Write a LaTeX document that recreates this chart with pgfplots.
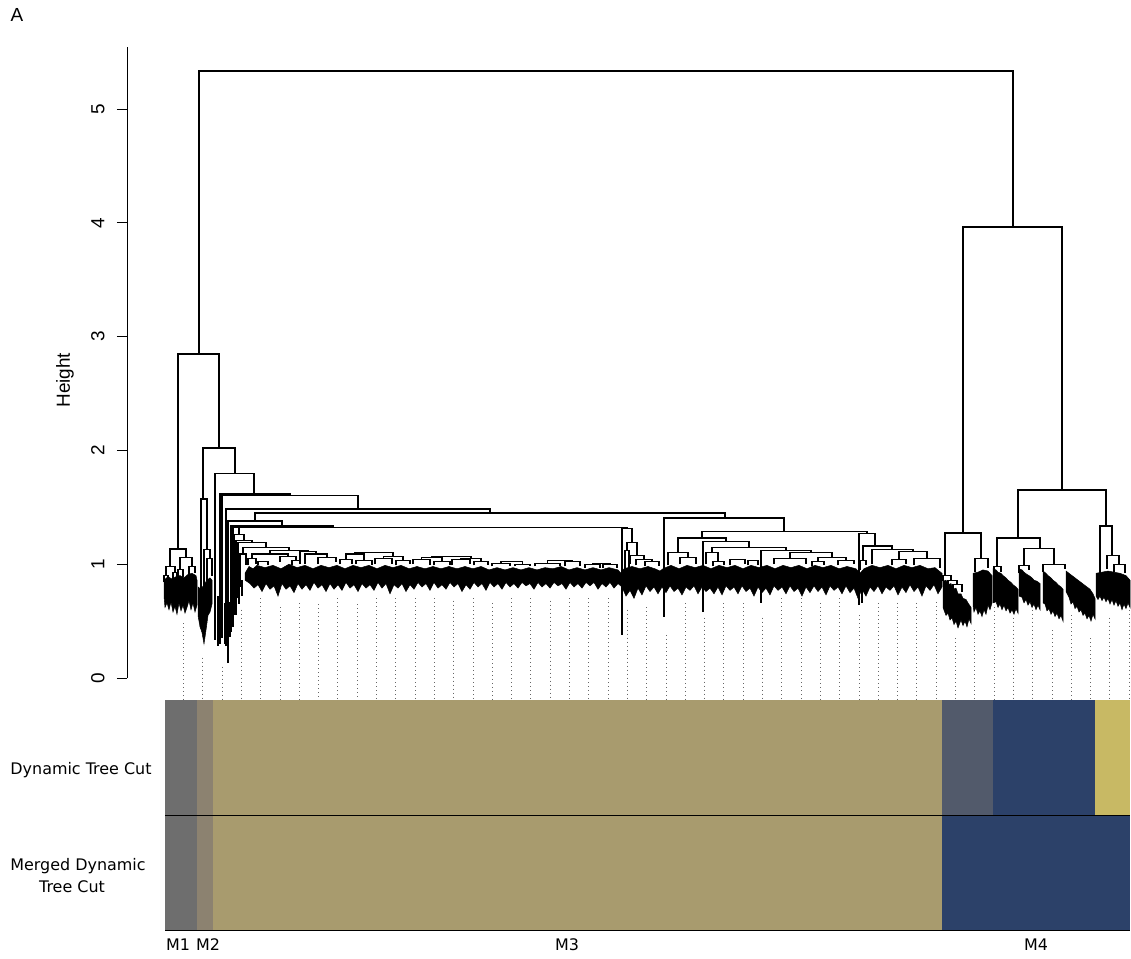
\documentclass[border=0pt]{standalone}
\usepackage{pgfplots}
\pgfplotsset{compat=1.18}
\usepackage{fontspec}
\setmainfont{Liberation Sans}
\newfontfamily\djv{DejaVu Sans}
\definecolor{cMone}{HTML}{6E6E6E}
\definecolor{cMtwo}{HTML}{8C8270}
\definecolor{cMthree}{HTML}{A89B6E}
\definecolor{cSlate}{HTML}{525A6B}
\definecolor{cNavy}{HTML}{2C4169}
\definecolor{cYel}{HTML}{C8B964}
\begin{document}
\begin{tikzpicture}
\path[use as bounding box] (0,0) rectangle (1131bp,-959bp);
\begin{axis}[
  at={(127bp,-678bp)}, anchor=south west,
  scale only axis, width=1004bp, height=631bp,
  xmin=127, xmax=1131, ymin=0, ymax=5.545,
  axis x line=none, axis y line=left,
  axis line style={-, line width=0.9bp, black},
  ytick={0,1,2,3,4,5},
  tick align=outside, major tick length=10bp,
  tick style={black, line width=0.9bp},
  yticklabel style={rotate=90, anchor=south, font=\fontsize{19}{19}\selectfont},
  yticklabel shift=9bp,
  /pgf/number format/assume math mode=true,
  ylabel={Height},
  ylabel style={at={(axis description cs:-0.0618,0.472)}, anchor=center, font=\fontsize{19}{19}\selectfont},
  clip=false, unbounded coords=jump,
]
% dotted guide lines
\addplot[gray!80!black, line width=0.9bp, dash pattern=on 1bp off 3bp] coordinates {
(183.5,0.48)(183.5,-0.193)(0,nan)
(202.8,0.18)(202.8,-0.193)(0,nan)
(222.1,0.10)(222.1,-0.193)(0,nan)
(241.4,0.60)(241.4,-0.193)(0,nan)
(260.7,0.70)(260.7,-0.193)(0,nan)
(280.0,0.62)(280.0,-0.193)(0,nan)
(299.3,0.66)(299.3,-0.193)(0,nan)
(318.6,0.65)(318.6,-0.193)(0,nan)
(337.9,0.70)(337.9,-0.193)(0,nan)
(357.2,0.65)(357.2,-0.193)(0,nan)
(376.5,0.70)(376.5,-0.193)(0,nan)
(395.8,0.70)(395.8,-0.193)(0,nan)
(415.1,0.70)(415.1,-0.193)(0,nan)
(434.4,0.70)(434.4,-0.193)(0,nan)
(453.7,0.68)(453.7,-0.193)(0,nan)
(473.0,0.70)(473.0,-0.193)(0,nan)
(492.3,0.66)(492.3,-0.193)(0,nan)
(511.6,0.70)(511.6,-0.193)(0,nan)
(530.9,0.70)(530.9,-0.193)(0,nan)
(550.2,0.68)(550.2,-0.193)(0,nan)
(569.5,0.70)(569.5,-0.193)(0,nan)
(588.8,0.70)(588.8,-0.193)(0,nan)
(608.1,0.70)(608.1,-0.193)(0,nan)
(627.4,0.60)(627.4,-0.193)(0,nan)
(646.7,0.62)(646.7,-0.193)(0,nan)
(666.0,0.38)(666.0,-0.193)(0,nan)
(685.3,0.66)(685.3,-0.193)(0,nan)
(704.6,0.53)(704.6,-0.193)(0,nan)
(723.9,0.66)(723.9,-0.193)(0,nan)
(743.2,0.66)(743.2,-0.193)(0,nan)
(762.5,0.53)(762.5,-0.193)(0,nan)
(781.8,0.70)(781.8,-0.193)(0,nan)
(801.1,0.70)(801.1,-0.193)(0,nan)
(820.4,0.66)(820.4,-0.193)(0,nan)
(839.7,0.70)(839.7,-0.193)(0,nan)
(859.0,0.55)(859.0,-0.193)(0,nan)
(878.3,0.66)(878.3,-0.193)(0,nan)
(897.6,0.66)(897.6,-0.193)(0,nan)
(916.9,0.66)(916.9,-0.193)(0,nan)
(936.2,0.67)(936.2,-0.193)(0,nan)
(955.5,0.35)(955.5,-0.193)(0,nan)
(974.8,0.42)(974.8,-0.193)(0,nan)
(994.1,0.62)(994.1,-0.193)(0,nan)
(1013.4,0.53)(1013.4,-0.193)(0,nan)
(1032.7,0.60)(1032.7,-0.193)(0,nan)
(1052.0,0.42)(1052.0,-0.193)(0,nan)
(1071.3,0.55)(1071.3,-0.193)(0,nan)
(1090.6,0.35)(1090.6,-0.193)(0,nan)
(1109.9,0.53)(1109.9,-0.193)(0,nan)
(1129.2,0.60)(1129.2,-0.193)
};
% dense leaf masses
\addplot[fill=black, draw=black, line width=0.5bp] coordinates {
(164,0.86)(168,0.89)(172,0.87)(176,0.89)(180,0.90)(184,0.88)(188,0.91)(192,0.92)(196,0.90)(197,0.86)
(197,0.64)(195,0.58)(193,0.66)(191,0.60)(189,0.68)(187,0.62)(185,0.57)(183,0.64)(181,0.59)(179,0.66)(177,0.56)(175,0.63)(173,0.58)(171,0.67)(169,0.60)(167,0.66)(165,0.62)(164,0.72)} -- cycle;
\addplot[fill=black, draw=black, line width=0.5bp] coordinates {
(198,0.80)(201,0.78)(204,0.82)(207,0.86)(210,0.88)(212,0.86)
(212,0.65)(210,0.58)(208,0.55)(206,0.42)(204,0.30)(202,0.40)(200,0.45)(198,0.55)} -- cycle;
\addplot[fill=black, draw=black, line width=0.5bp] coordinates {
(245,0.92)(249,0.98)(253,0.96)(257,0.99)(265,0.97)(273,0.99)(281,0.96)(289,1.0)(297,0.97)(305,0.99)(313,0.96)(321,0.99)(329,0.97)(337,0.99)(345,0.96)(353,0.99)(361,0.97)(369,0.99)(377,0.96)(385,0.99)(393,0.97)(401,0.99)(409,0.96)(417,0.98)(425,0.96)(433,0.98)(441,0.96)(449,0.98)(457,0.96)(465,0.98)(473,0.96)(481,0.98)(489,0.95)(497,0.97)(505,0.95)(513,0.97)(521,0.95)(529,0.97)(537,0.95)(545,0.97)(553,0.96)(561,0.98)(569,0.95)(577,0.97)(585,0.95)(593,0.97)(601,0.95)(609,0.97)(618,0.95)(621,0.92)(624,0.96)(632,0.98)(640,0.96)(648,0.98)(655,0.96)(660,0.94)(663,0.96)(671,0.99)(679,0.96)(687,0.99)(695,0.97)(703,0.99)(711,0.96)(719,0.99)(727,0.97)(735,0.99)(743,0.96)(751,0.99)(759,0.97)(767,0.99)(775,0.96)(783,0.99)(791,0.97)(799,0.99)(807,0.96)(815,0.99)(823,0.97)(831,0.99)(839,0.96)(847,0.98)(856,0.96)(860,0.92)(864,0.96)(872,0.99)(880,0.97)(888,0.99)(896,0.96)(904,0.99)(912,0.97)(920,0.99)(928,0.96)(935,0.97)(942,0.92)
(942,0.80)(938,0.74)(934,0.82)(930,0.77)(926,0.81)(922,0.72)(918,0.80)(914,0.76)(910,0.82)(906,0.75)(902,0.80)(898,0.73)(894,0.81)(890,0.77)(886,0.80)(882,0.74)(878,0.81)(874,0.76)(870,0.80)(866,0.72)(862,0.78)(858,0.70)(854,0.79)(850,0.75)(846,0.81)(842,0.74)(838,0.80)(834,0.77)(830,0.81)(826,0.73)(822,0.80)(818,0.76)(814,0.81)(810,0.75)(806,0.80)(802,0.72)(798,0.79)(794,0.76)(790,0.81)(786,0.74)(782,0.80)(778,0.77)(774,0.81)(770,0.73)(766,0.79)(762,0.75)(758,0.80)(754,0.72)(750,0.79)(746,0.76)(742,0.81)(738,0.74)(734,0.80)(730,0.77)(726,0.81)(722,0.73)(718,0.80)(714,0.74)(710,0.79)(706,0.76)(702,0.80)(698,0.74)(694,0.81)(690,0.77)(686,0.80)(682,0.73)(678,0.79)(674,0.76)(670,0.81)(666,0.75)(662,0.80)(658,0.74)(654,0.80)(650,0.76)(646,0.81)(642,0.73)(638,0.79)(634,0.70)(630,0.77)(626,0.72)(622,0.80)(618,0.83)(614,0.79)(610,0.84)(606,0.80)(602,0.83)(598,0.78)(594,0.84)(590,0.81)(586,0.84)(582,0.79)(578,0.83)(574,0.80)(570,0.84)(566,0.78)(562,0.83)(558,0.81)(554,0.84)(550,0.79)(546,0.83)(542,0.80)(538,0.84)(534,0.78)(530,0.83)(526,0.81)(522,0.84)(518,0.79)(514,0.83)(510,0.80)(506,0.84)(502,0.78)(498,0.83)(494,0.80)(490,0.84)(486,0.77)(482,0.83)(478,0.80)(474,0.84)(470,0.78)(466,0.82)(462,0.76)(458,0.83)(454,0.80)(450,0.84)(446,0.78)(442,0.82)(438,0.79)(434,0.84)(430,0.77)(426,0.83)(422,0.80)(418,0.84)(414,0.78)(410,0.82)(406,0.76)(402,0.83)(398,0.79)(394,0.82)(390,0.74)(386,0.83)(382,0.79)(378,0.84)(374,0.77)(370,0.82)(366,0.79)(362,0.83)(358,0.76)(354,0.82)(350,0.79)(346,0.84)(342,0.77)(338,0.82)(334,0.78)(330,0.83)(326,0.76)(322,0.82)(318,0.79)(314,0.84)(310,0.77)(306,0.82)(302,0.78)(298,0.83)(294,0.75)(290,0.81)(286,0.78)(282,0.83)(278,0.72)(274,0.81)(270,0.78)(266,0.83)(262,0.76)(258,0.82)(254,0.79)(250,0.83)(245,0.86)} -- cycle;
\addplot[fill=black, draw=black, line width=0.5bp] coordinates {
(943,0.85)(946,0.86)(948,0.82)(951,0.83)(953,0.78)(956,0.79)(958,0.74)(961,0.74)(963,0.70)(966,0.69)(968,0.66)(971,0.62)
(971,0.48)(969,0.52)(967,0.45)(965,0.50)(963,0.46)(961,0.51)(958,0.44)(956,0.50)(954,0.47)(952,0.53)(950,0.51)(948,0.57)(946,0.55)(943,0.62)} -- cycle;
\addplot[fill=black, draw=black, line width=0.5bp] coordinates {
(973,0.92)(978,0.93)(983,0.95)(988,0.94)(992,0.90)
(992,0.66)(990,0.60)(988,0.64)(986,0.56)(984,0.60)(982,0.54)(980,0.59)(978,0.56)(976,0.62)(974,0.58)(973,0.64)} -- cycle;
\addplot[fill=black, draw=black, line width=0.5bp] coordinates {
(993,0.96)(996,0.95)(998,0.93)(1001,0.92)(1003,0.90)(1006,0.88)(1008,0.86)(1011,0.84)(1013,0.82)(1016,0.80)(1018,0.78)
(1018,0.57)(1016,0.61)(1014,0.56)(1012,0.60)(1010,0.57)(1008,0.62)(1006,0.59)(1004,0.64)(1002,0.60)(1000,0.65)(998,0.62)(996,0.67)(993,0.66)} -- cycle;
\addplot[fill=black, draw=black, line width=0.5bp] coordinates {
(1019,0.96)(1022,0.95)(1024,0.93)(1027,0.91)(1029,0.90)(1032,0.88)(1034,0.86)(1037,0.85)(1040,0.83)
(1040,0.60)(1038,0.64)(1036,0.60)(1034,0.65)(1032,0.62)(1030,0.67)(1028,0.64)(1026,0.69)(1024,0.66)(1022,0.71)(1019,0.72)} -- cycle;
\addplot[fill=black, draw=black, line width=0.5bp] coordinates {
(1043,0.94)(1046,0.92)(1048,0.90)(1051,0.88)(1053,0.86)(1056,0.84)(1058,0.82)(1061,0.80)(1063,0.78)
(1063,0.50)(1061,0.55)(1059,0.52)(1057,0.57)(1055,0.54)(1053,0.59)(1051,0.56)(1049,0.61)(1047,0.59)(1045,0.65)(1043,0.66)} -- cycle;
\addplot[fill=black, draw=black, line width=0.5bp] coordinates {
(1066,0.94)(1069,0.92)(1072,0.90)(1075,0.88)(1078,0.86)(1081,0.84)(1084,0.82)(1087,0.80)(1090,0.78)(1093,0.74)(1095,0.70)
(1095,0.52)(1093,0.56)(1091,0.50)(1089,0.55)(1087,0.52)(1085,0.57)(1083,0.55)(1081,0.60)(1079,0.58)(1077,0.63)(1075,0.61)(1073,0.67)(1071,0.65)(1069,0.71)(1066,0.76)} -- cycle;
\addplot[fill=black, draw=black, line width=0.5bp] coordinates {
(1096,0.92)(1102,0.93)(1108,0.94)(1114,0.93)(1120,0.92)(1126,0.90)(1130,0.86)
(1130,0.62)(1128,0.66)(1126,0.61)(1124,0.65)(1122,0.60)(1120,0.66)(1118,0.63)(1116,0.68)(1114,0.64)(1112,0.69)(1110,0.65)(1108,0.70)(1106,0.67)(1104,0.71)(1102,0.68)(1100,0.72)(1098,0.69)(1096,0.72)} -- cycle;
% thick deep leaves
\addplot[black, line width=2.4bp] coordinates {
(215,0.75)(215,0.33)(0,nan)(218,0.72)(218,0.28)(0,nan)(220,0.70)(220,0.30)(0,nan)
(222,0.68)(222,0.35)(0,nan)(225,0.66)(225,0.30)(0,nan)(228,0.65)(228,0.40)(0,nan)
(230,0.67)(230,0.36)(0,nan)(233,0.72)(233,0.45)(0,nan)(236,0.78)(236,0.55)(0,nan)
(239,0.82)(239,0.65)(0,nan)(242,0.86)(242,0.72)(0,nan)
(859,0.80)(859,0.64)(0,nan)(862,0.80)(862,0.66)(0,nan)(622,0.80)(622,0.42)
};
% dendrogram branches
\addplot[black, line width=1.1bp] coordinates {
(199,2.847)(199,5.334)(1013,5.334)(1013,3.963)(0,nan)
(178,1.134)(178,2.847)(219,2.847)(219,2.021)(0,nan)
(963,1.274)(963,3.963)(1062,3.963)(1062,1.652)(0,nan)
(203,1.573)(203,2.021)(235,2.021)(235,1.801)(0,nan)
(215,0.40)(215,1.801)(254,1.801)(254,1.617)(0,nan)
(220,0.30)(220,1.617)(290,1.617)(290,1.60)(0,nan)
(222,0.35)(222,1.60)(358,1.60)(358,1.485)(0,nan)
(226,0.28)(226,1.485)(490,1.485)(490,1.45)(0,nan)
(255,1.38)(255,1.45)(725,1.45)(725,1.406)(0,nan)
(228,0.13)(228,1.38)(282,1.38)(282,1.336)(0,nan)
(231,0.40)(231,1.336)(333,1.336)(333,1.325)(0,nan)
(233,0.48)(233,1.325)(433,1.325)(433,1.32)(0,nan)
(239,1.26)(239,1.32)(627,1.32)(627,1.31)(0,nan)
(234,0.55)(234,1.26)(244,1.26)(244,1.21)(0,nan)
(236,0.62)(236,1.21)(252,1.21)(252,1.19)(0,nan)
(238,0.70)(238,1.19)(266,1.19)(266,1.15)(0,nan)
(243,1.09)(243,1.15)(289,1.15)(289,1.12)(0,nan)
(240,0.80)(240,1.09)(246,1.09)(246,0.99)(0,nan)
(270,1.09)(270,1.12)(308,1.12)(308,1.11)(0,nan)
(252,1.05)(252,1.09)(288,1.09)(288,1.07)(0,nan)
(248,0.99)(248,1.05)(256,1.05)(256,1.0)(0,nan)
(280,1.02)(280,1.07)(296,1.07)(296,1.03)(0,nan)
(300,1.04)(300,1.11)(316,1.11)(316,1.09)(0,nan)
(305,1.0)(305,1.09)(327,1.09)(327,1.06)(0,nan)
(318,1.0)(318,1.06)(336,1.06)(336,1.02)(0,nan)
(258,0.99)(258,1.02)(268,1.02)(268,0.99)(0,nan)
(292,0.99)(292,1.03)(300,1.03)(300,1.0)(0,nan)
(340,1.0)(340,1.04)(352,1.04)(352,1.0)(0,nan)
(356,1.0)(356,1.03)(372,1.03)(372,0.99)(0,nan)
(375,1.0)(375,1.05)(392,1.05)(392,1.0)(0,nan)
(396,0.99)(396,1.03)(410,1.03)(410,1.0)(0,nan)
(413,1.0)(413,1.04)(430,1.04)(430,0.99)(0,nan)
(434,0.99)(434,1.02)(450,1.02)(450,0.99)(0,nan)
(452,0.99)(452,1.04)(470,1.04)(470,1.0)(0,nan)
(474,0.99)(474,1.02)(488,1.02)(488,0.99)(0,nan)
(492,0.98)(492,1.01)(510,1.01)(510,0.98)(0,nan)
(515,0.98)(515,1.0)(530,1.0)(530,0.98)(0,nan)
(535,0.98)(535,1.01)(560,1.01)(560,0.98)(0,nan)
(565,0.98)(565,1.02)(580,1.02)(580,0.98)(0,nan)
(585,0.97)(585,1.0)(600,1.0)(600,0.97)(0,nan)
(603,0.97)(603,1.0)(617,1.0)(617,0.97)(0,nan)
(346,1.04)(346,1.09)(364,1.09)(364,1.03)(0,nan)
(383.5,1.05)(383.5,1.07)(403,1.07)(403,1.03)(0,nan)
(421.5,1.04)(421.5,1.06)(442,1.06)(442,1.02)(0,nan)
(461,1.04)(461,1.05)(481,1.05)(481,1.02)(0,nan)
(501,1.01)(501,1.02)(522.5,1.02)(522.5,1.0)(0,nan)
(547.5,1.01)(547.5,1.03)(572.5,1.03)(572.5,1.02)(0,nan)
(592.5,1.0)(592.5,1.01)(610,1.01)(610,1.0)(0,nan)
(355,1.09)(355,1.10)(393,1.10)(393,1.07)(0,nan)
(431.75,1.06)(431.75,1.07)(471,1.07)(471,1.05)(0,nan)
(622,0.38)(622,1.31)(632,1.31)(632,1.19)(0,nan)
(627,1.12)(627,1.19)(637,1.19)(637,1.08)(0,nan)
(625,0.78)(625,1.12)(629,1.12)(629,0.90)(0,nan)
(630,1.0)(630,1.08)(644,1.08)(644,1.04)(0,nan)
(636,0.99)(636,1.04)(652,1.04)(652,1.02)(0,nan)
(645,0.98)(645,1.02)(659,1.02)(659,0.98)(0,nan)
(664,0.54)(664,1.406)(784,1.406)(784,1.29)(0,nan)
(702,1.23)(702,1.29)(867,1.29)(867,1.27)(0,nan)
(678,1.10)(678,1.23)(726,1.23)(726,1.20)(0,nan)
(668,0.99)(668,1.10)(688,1.10)(688,1.06)(0,nan)
(680,1.0)(680,1.06)(696,1.06)(696,1.0)(0,nan)
(703,0.58)(703,1.20)(749,1.20)(749,1.15)(0,nan)
(712,1.10)(712,1.15)(786,1.15)(786,1.12)(0,nan)
(706,1.0)(706,1.10)(718,1.10)(718,1.02)(0,nan)
(713,0.98)(713,1.02)(724,1.02)(724,0.99)(0,nan)
(730,0.99)(730,1.04)(745,1.04)(745,1.0)(0,nan)
(748,0.99)(748,1.03)(758,1.03)(758,0.99)(0,nan)
(761,0.66)(761,1.12)(811,1.12)(811,1.10)(0,nan)
(790,1.05)(790,1.10)(832,1.10)(832,1.06)(0,nan)
(774,1.0)(774,1.05)(806,1.05)(806,1.0)(0,nan)
(818,1.02)(818,1.06)(846,1.06)(846,1.03)(0,nan)
(812,0.98)(812,1.02)(824,1.02)(824,0.99)(0,nan)
(838,0.99)(838,1.03)(854,1.03)(854,1.0)(0,nan)
(859,0.64)(859,1.27)(875,1.27)(875,1.16)(0,nan)
(863,1.03)(863,1.16)(892,1.16)(892,1.13)(0,nan)
(860,0.95)(860,1.03)(866,1.03)(866,0.99)(0,nan)
(872,1.0)(872,1.13)(913,1.13)(913,1.11)(0,nan)
(899,1.04)(899,1.11)(927,1.11)(927,1.05)(0,nan)
(892,0.99)(892,1.04)(906,1.04)(906,1.0)(0,nan)
(914,0.99)(914,1.05)(940,1.05)(940,0.97)(0,nan)
(945,0.90)(945,1.274)(981,1.274)(981,1.054)(0,nan)
(975,0.93)(975,1.054)(988,1.054)(988,0.97)(0,nan)
(943,0.85)(943,0.90)(951,0.90)(951,0.86)(0,nan)
(948,0.80)(948,0.86)(957,0.86)(957,0.82)(0,nan)
(953,0.74)(953,0.82)(962,0.82)(962,0.76)(0,nan)
(1018,1.23)(1018,1.652)(1106,1.652)(1106,1.336)(0,nan)
(997,0.98)(997,1.23)(1040,1.23)(1040,1.142)(0,nan)
(1024,0.99)(1024,1.142)(1054,1.142)(1054,1.0)(0,nan)
(1019,0.92)(1019,0.99)(1029,0.99)(1029,0.95)(0,nan)
(1043,0.93)(1043,1.0)(1065,1.0)(1065,0.96)(0,nan)
(994,0.92)(994,0.98)(1001,0.98)(1001,0.93)(0,nan)
(1100,0.92)(1100,1.336)(1112,1.336)(1112,1.08)(0,nan)
(1107,0.96)(1107,1.08)(1119,1.08)(1119,1.0)(0,nan)
(1114,0.93)(1114,1.0)(1125,1.0)(1125,0.92)(0,nan)
(170,0.98)(170,1.134)(186,1.134)(186,1.06)(0,nan)
(166,0.90)(166,0.98)(175,0.98)(175,0.93)(0,nan)
(180,0.95)(180,1.06)(192,1.06)(192,0.98)(0,nan)
(164,0.84)(164,0.90)(168,0.90)(168,0.85)(0,nan)
(178,0.88)(178,0.95)(183,0.95)(183,0.89)(0,nan)
(189,0.90)(189,0.98)(195,0.98)(195,0.92)(0,nan)
(173,0.86)(173,0.93)(177,0.93)(177,0.88)(0,nan)
(201,0.78)(201,1.573)(207,1.573)(207,1.13)(0,nan)
(204,0.80)(204,1.13)(210,1.13)(210,1.05)(0,nan)
(207,0.85)(207,1.05)(212,1.05)(212,0.90)
};
\end{axis}
% colour bars
\begin{axis}[
  at={(127bp,-930bp)}, anchor=south west,
  scale only axis, width=1004bp, height=230bp,
  xmin=127, xmax=1131, ymin=0, ymax=2,
  hide axis, clip=false,
]
\addplot[fill=cMone, draw=none] coordinates {(165,1)(197,1)(197,2)(165,2)} -- cycle;
\addplot[fill=cMtwo, draw=none] coordinates {(197,1)(213,1)(213,2)(197,2)} -- cycle;
\addplot[fill=cMthree, draw=none] coordinates {(213,1)(942,1)(942,2)(213,2)} -- cycle;
\addplot[fill=cSlate, draw=none] coordinates {(942,1)(993,1)(993,2)(942,2)} -- cycle;
\addplot[fill=cNavy, draw=none] coordinates {(993,1)(1095,1)(1095,2)(993,2)} -- cycle;
\addplot[fill=cYel, draw=none] coordinates {(1095,1)(1130,1)(1130,2)(1095,2)} -- cycle;
\addplot[fill=cMone, draw=none] coordinates {(165,0)(197,0)(197,1)(165,1)} -- cycle;
\addplot[fill=cMtwo, draw=none] coordinates {(197,0)(213,0)(213,1)(197,1)} -- cycle;
\addplot[fill=cMthree, draw=none] coordinates {(213,0)(942,0)(942,1)(213,1)} -- cycle;
\addplot[fill=cNavy, draw=none] coordinates {(942,0)(1130,0)(1130,1)(942,1)} -- cycle;
\addplot[black, line width=1bp] coordinates {(165,1)(1130,1)};
\addplot[black, line width=1bp] coordinates {(165,0)(1130,0)};
\end{axis}
\node[font=\fontsize{19}{19}\selectfont] at (17bp,-15bp) {A};
\node[font=\djv\fontsize{16}{16}\selectfont] at (81bp,-770bp) {Dynamic Tree Cut};
\node[font=\djv\fontsize{16}{16}\selectfont] at (78bp,-866bp) {Merged Dynamic};
\node[font=\djv\fontsize{16}{16}\selectfont] at (72bp,-887bp) {Tree Cut};
\node[font=\djv\fontsize{16}{16}\selectfont] at (178bp,-945bp) {M1};
\node[font=\djv\fontsize{16}{16}\selectfont] at (208bp,-945bp) {M2};
\node[font=\djv\fontsize{16}{16}\selectfont] at (567bp,-945bp) {M3};
\node[font=\djv\fontsize{16}{16}\selectfont] at (1036bp,-945bp) {M4};
\end{tikzpicture}
\end{document}
